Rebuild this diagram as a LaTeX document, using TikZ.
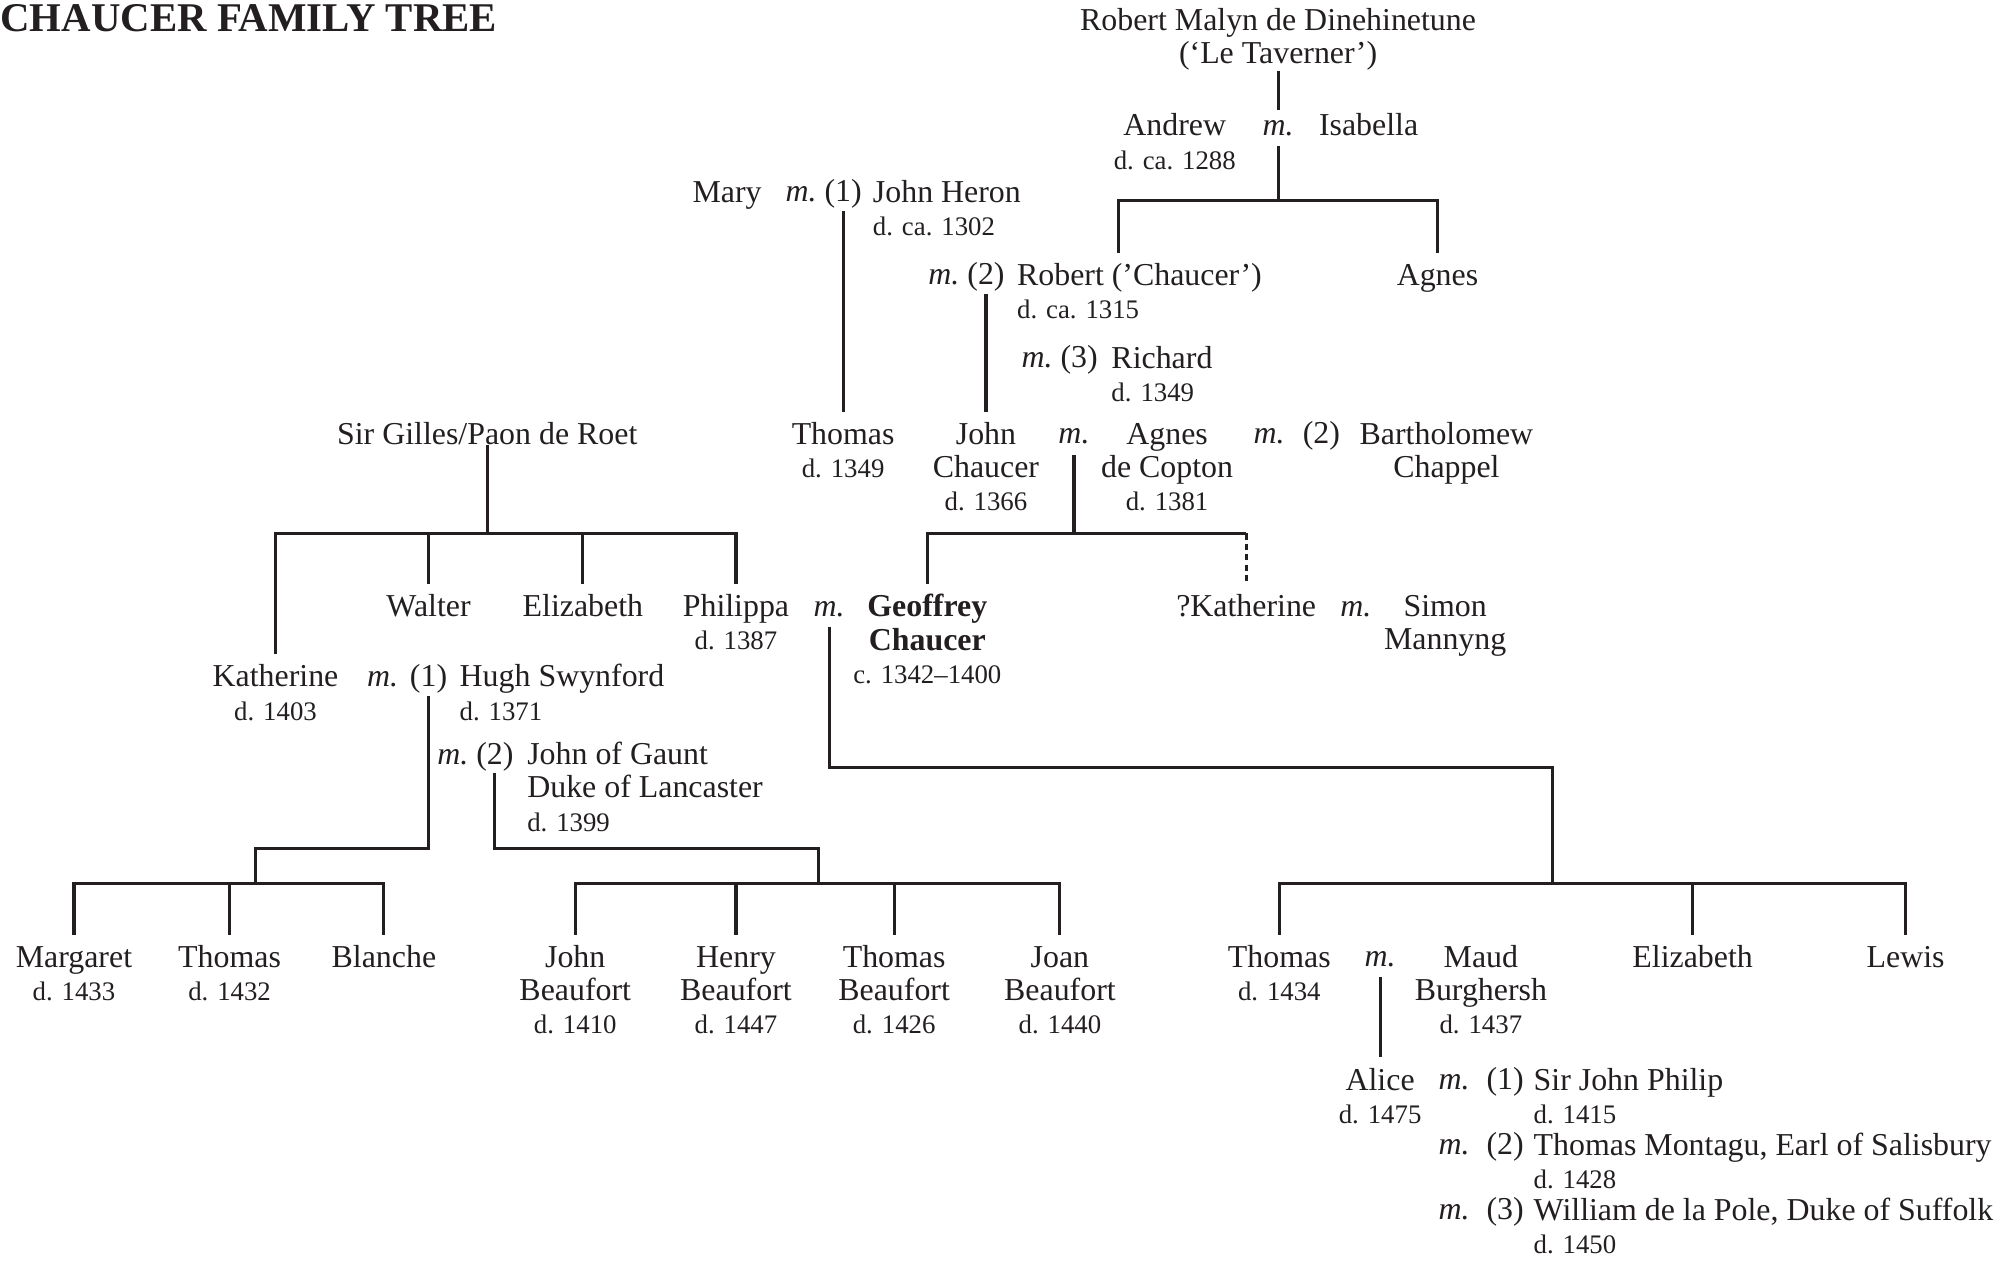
\documentclass[tikz,border=0pt]{standalone}
\usepackage{fontspec}
\setmainfont{Liberation Serif}
\definecolor{treeink}{RGB}{35,31,32}
\newcommand{\nm}{\fontsize{12.5}{13}\selectfont}
\newcommand{\dt}[1]{{\fontsize{10.5}{13}\selectfont #1}}
\newcommand{\up}{\rule{0pt}{12.6pt}}

\tikzset{
  kin/.style={line width=1.2pt,draw=treeink},
  person/.style={align=center,anchor=north,inner sep=0pt,font=\nm,text=treeink},
  spouse/.style={align=left,anchor=north west,inner sep=0pt,font=\nm,text=treeink},
  marr/.style={anchor=base,inner sep=0pt,outer sep=4pt,font=\nm\itshape,text=treeink},
  order/.style={anchor=base,inner sep=0pt,outer sep=1pt,font=\nm,text=treeink},
}

\begin{document}
\begin{tikzpicture}[x=0.5pt,y=-0.5pt]
    \useasboundingbox (0,0) rectangle (1568,988);

    \node[anchor=base west,inner sep=0pt,text=treeink,font=\fontsize{16}{19}\selectfont\bfseries]
        (title) at (0,25) {CHAUCER FAMILY TREE};

    % Le Taverner
    \node[person] (robmalyn) at (1002,-2) {\up Robert Malyn de Dinehinetune\\(‘Le Taverner’)};
    \node[person] (andrew) at (921,81) {\up Andrew\\\dt{d. ca. 1288}};
    \node[marr] (mAI) at (1002,106) {m.};
    \node[person] (isabella) at (1073,81) {\up Isabella};
    \coordinate (barAI) at (1002,157);
    \node[spouse] (robertC) at (797,198) {\up Robert (’Chaucer’)\\\dt{d. ca. 1315}};
    \node[person] (agnesA) at (1127,198) {\up Agnes};

    % Mary and her husbands
    \node[person] (mary) at (570,133) {\up Mary};
    \node[marr] (mMH) at (628,158) {m.};
    \node[order] (nH1) at (661,158) {(1)};
    \node[spouse] (heron) at (684,133) {\up John Heron\\\dt{d. ca. 1302}};
    \node[marr] (mMR2) at (740,223) {m.};
    \node[order] (nR2) at (773,223) {(2)};
    \node[marr] (mMR3) at (813,288) {m.};
    \node[order] (nR3) at (846,288) {(3)};
    \node[spouse] (richard) at (871,263) {\up Richard\\\dt{d. 1349}};

    \node[person] (thomasH) at (661,323) {\up Thomas\\\dt{d. 1349}};
    \node[person] (johnC) at (773,323) {\up John\\Chaucer\\\dt{d. 1366}};
    \node[marr] (mJA) at (842,348) {m.};
    \node[person] (agnesC) at (915,323) {\up Agnes\\de Copton\\\dt{d. 1381}};
    \node[marr] (mAB) at (995,348) {m.};
    \node[order] (nB2) at (1036,348) {(2)};
    \node[person] (bartholomew) at (1134,323) {\up Bartholomew\\Chappel};
    \coordinate (barJA) at (842,418);

    \node[person] (geoffrey) at (727,458) {\up\textbf{Geoffrey}\\\textbf{Chaucer}\\\dt{c. 1342–1400}};
    \node[person] (katherineQ) at (977,458) {\up ?Katherine};
    \node[marr] (mKS) at (1063,483) {m.};
    \node[person] (simon) at (1133,458) {\up Simon\\Mannyng};

    % de Roet
    \node[person] (roet) at (382,323) {\up Sir Gilles/Paon de Roet};
    \coordinate (barR) at (382,418);
    \node[person] (katherineS) at (216,513) {\up Katherine\\\dt{d. 1403}};
    \node[person] (walter) at (336,458) {\up Walter};
    \node[person] (elizR) at (457,458) {\up Elizabeth};
    \node[person] (philippa) at (577,458) {\up Philippa\\\dt{d. 1387}};
    \node[marr] (mPG) at (650,483) {m.};
    \coordinate (linkPG) at (1217,602);
    \coordinate (barPG) at (1217,693);

    \node[marr] (mSw) at (300,538) {m.};
    \node[order] (nSw1) at (336,538) {(1)};
    \node[spouse] (swynford) at (360,513) {\up Hugh Swynford\\\dt{d. 1371}};
    \node[marr] (mGa) at (355,599) {m.};
    \node[order] (nGa2) at (388,599) {(2)};
    \node[spouse] (gaunt) at (413,574) {\up John of Gaunt\\Duke of Lancaster\\\dt{d. 1399}};
    \coordinate (linkSw) at (200,665);
    \coordinate (barSw) at (200,693);
    \coordinate (linkGa) at (642,665);
    \coordinate (barGa) at (642,693);

    % children
    \node[person] (margaret) at (58,733) {\up Margaret\\\dt{d. 1433}};
    \node[person] (thomasS) at (180,733) {\up Thomas\\\dt{d. 1432}};
    \node[person] (blanche) at (301,733) {\up Blanche};
    \node[person] (johnB) at (451,733) {\up John\\Beaufort\\\dt{d. 1410}};
    \node[person] (henryB) at (577,733) {\up Henry\\Beaufort\\\dt{d. 1447}};
    \node[person] (thomasB) at (701,733) {\up Thomas\\Beaufort\\\dt{d. 1426}};
    \node[person] (joanB) at (831,733) {\up Joan\\Beaufort\\\dt{d. 1440}};
    \node[person] (thomasC) at (1003,733) {\up Thomas\\\dt{d. 1434}};
    \node[marr] (mTM) at (1082,758) {m.};
    \node[person] (maud) at (1161,733) {\up Maud\\Burghersh\\\dt{d. 1437}};
    \node[person] (elizC) at (1327,733) {\up Elizabeth};
    \node[person] (lewis) at (1494,733) {\up Lewis};

    % Alice
    \node[person] (alice) at (1082,829) {\up Alice\\\dt{d. 1475}};
    \node[marr] (mAl1) at (1140,854) {m.};
    \node[order] (nAl1) at (1180,854) {(1)};
    \node[spouse] (philip) at (1202,829) {\up Sir John Philip\\\dt{d. 1415}};
    \node[marr] (mAl2) at (1140,905) {m.};
    \node[order] (nAl2) at (1180,905) {(2)};
    \node[spouse] (montagu) at (1202,880) {\up Thomas Montagu, Earl of Salisbury\\\dt{d. 1428}};
    \node[marr] (mAl3) at (1140,956) {m.};
    \node[order] (nAl3) at (1180,956) {(3)};
    \node[spouse] (pole) at (1202,931) {\up William de la Pole, Duke of Suffolk\\\dt{d. 1450}};

    % lines of descent
    \draw[kin] (robmalyn.south) -- (mAI.north);
    \draw[kin] (mAI.south) -- (barAI);
    \draw[kin] ([xshift=40pt]robertC.north west) |- (barAI) -| (agnesA.north);
    \draw[kin] (nH1.south) -- (thomasH.north);
    \draw[kin] (nR2.south) -- (johnC.north);
    \draw[kin] (mJA.south) -- (barJA);
    \draw[kin] (geoffrey.north) |- (barJA) -- (barJA -| katherineQ.north);
    \draw[kin,dash pattern=on 2.5pt off 1.6pt] (barJA -| katherineQ.north) -- (katherineQ.north);

    \draw[kin] (roet.south) -- (barR);
    \draw[kin] (katherineS.north) |- (barR) -| (philippa.north);
    \draw[kin] (walter.north) -- (walter.north |- barR);
    \draw[kin] (elizR.north) -- (elizR.north |- barR);

    \draw[kin] (mPG.south) |- (linkPG) -- (barPG);
    \draw[kin] (thomasC.north) |- (barPG) -| (lewis.north);
    \draw[kin] (elizC.north) -- (elizC.north |- barPG);

    \draw[kin] (nSw1.south) |- (linkSw) -- (barSw);
    \draw[kin] (margaret.north) |- (barSw) -| (blanche.north);
    \draw[kin] (thomasS.north) -- (thomasS.north |- barSw);

    \draw[kin] (nGa2.south) |- (linkGa) -- (barGa);
    \draw[kin] (johnB.north) |- (barGa) -| (joanB.north);
    \draw[kin] (henryB.north) -- (henryB.north |- barGa);
    \draw[kin] (thomasB.north) -- (thomasB.north |- barGa);

    \draw[kin] (mTM.south) -- (alice.north);
\end{tikzpicture}
\end{document}
